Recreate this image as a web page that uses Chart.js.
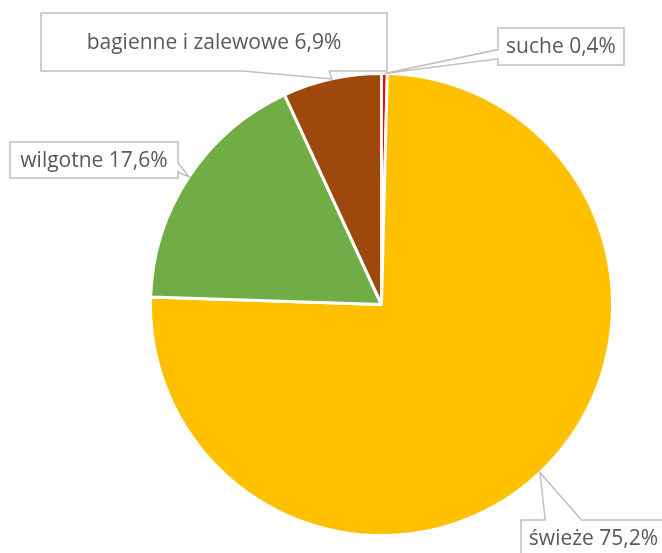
<!DOCTYPE html>
<html lang="pl">
<head>
<meta charset="utf-8">
<script src="https://cdn.jsdelivr.net/npm/chart.js@4.4.1/dist/chart.umd.min.js"></script>
<style>
  html, body { margin: 0; padding: 0; background: #ffffff; }
  #pieChart { display: block; }
</style>
</head>
<body>
<canvas id="pieChart" width="662" height="553"></canvas>
<script>
// Udział siedlisk wg wilgotności (%)
var categories = ["suche", "świeże", "wilgotne", "bagienne i zalewowe"];
var shares = [0.4, 75.2, 17.6, 6.9];
var sliceColors = ["#FF0000", "#FFC000", "#70AD47", "#9E480E"];

// Ramki opisów: [lewo, góra, szerokość, wysokość]
var calloutBoxes = [
    [498, 28, 126, 37],
    [521, 520, 145, 37],
    [10, 142, 168, 36],
    [41, 13, 346, 58]
];

function percentText(v) {
    return v.toFixed(1).replace('.', ',') + '%';
}

// Opisy w dymkach z "dzióbkiem" wskazującym środek łuku wycinka
var calloutPlugin = {
    id: 'callouts',
    afterDatasetsDraw: function (chart) {
        var ctx = chart.ctx;
        var arcs = chart.getDatasetMeta(0).data;
        ctx.save();
        ctx.font = '21px "Open Sans", "DejaVu Sans", sans-serif';
        ctx.textAlign = 'center';
        ctx.textBaseline = 'middle';
        arcs.forEach(function (arc, i) {
            var p = arc.getProps(['x', 'y', 'startAngle', 'endAngle', 'outerRadius'], true);
            var mid = (p.startAngle + p.endAngle) / 2;
            var tx = p.x + Math.cos(mid) * p.outerRadius;
            var ty = p.y + Math.sin(mid) * p.outerRadius;

            var b = calloutBoxes[i];
            var l = b[0], t = b[1], w = b[2], h = b[3];
            var r = l + w, btm = t + h;
            var cx = l + w / 2, cy = t + h / 2;
            var dx = (tx - cx) / w, dy = (ty - cy) / h;

            ctx.beginPath();
            ctx.moveTo(l, t);
            if (Math.abs(dy) >= Math.abs(dx) && dy < 0) {
                // wierzchołek nad ramką
                var a1 = dx > 0 ? l + w * 7 / 12 : l + w * 2 / 12;
                var a2 = dx > 0 ? l + w * 10 / 12 : l + w * 5 / 12;
                ctx.lineTo(a1, t); ctx.lineTo(tx, ty); ctx.lineTo(a2, t);
            }
            ctx.lineTo(r, t);
            if (Math.abs(dx) > Math.abs(dy) && dx > 0) {
                var b1 = dy > 0 ? t + h * 7 / 12 : t + h * 2 / 12;
                var b2 = dy > 0 ? t + h * 10 / 12 : t + h * 5 / 12;
                ctx.lineTo(r, b1); ctx.lineTo(tx, ty); ctx.lineTo(r, b2);
            }
            ctx.lineTo(r, btm);
            if (Math.abs(dy) >= Math.abs(dx) && dy > 0) {
                var c1 = dx > 0 ? l + w * 10 / 12 : l + w * 5 / 12;
                var c2 = dx > 0 ? l + w * 7 / 12 : l + w * 2 / 12;
                ctx.lineTo(c1, btm); ctx.lineTo(tx, ty); ctx.lineTo(c2, btm);
            }
            ctx.lineTo(l, btm);
            if (Math.abs(dx) > Math.abs(dy) && dx < 0) {
                var d1 = dy > 0 ? t + h * 10 / 12 : t + h * 5 / 12;
                var d2 = dy > 0 ? t + h * 7 / 12 : t + h * 2 / 12;
                ctx.lineTo(l, d1); ctx.lineTo(tx, ty); ctx.lineTo(l, d2);
            }
            ctx.closePath();
            ctx.fillStyle = '#ffffff';
            ctx.fill();
            ctx.lineWidth = 1.5;
            ctx.strokeStyle = '#BFBFBF';
            ctx.lineJoin = 'miter';
            ctx.stroke();

            ctx.fillStyle = '#595959';
            ctx.fillText(categories[i] + ' ' + percentText(shares[i]), cx, cy + 1);
        });
        ctx.restore();
    }
};

var pieCanvas = document.getElementById('pieChart').getContext('2d');
var pieChart = new Chart(pieCanvas, {
    type: 'pie',
    data: {
        labels: categories,
        datasets: [{
            data: shares,
            backgroundColor: sliceColors,
            borderColor: '#ffffff',
            borderWidth: 3
        }]
    },
    options: {
        responsive: false,
        animation: false,
        layout: {
            padding: { top: 72, bottom: 16, left: 149, right: 48 }
        },
        plugins: {
            legend: { display: false },
            tooltip: { enabled: false }
        }
    },
    plugins: [calloutPlugin]
});
</script>
</body>
</html>
